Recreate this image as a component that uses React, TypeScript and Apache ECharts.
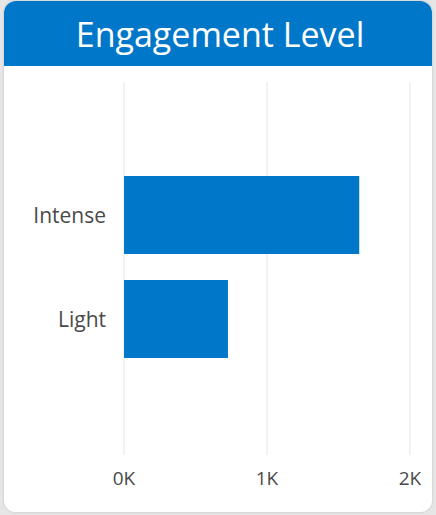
import React, { useEffect, useRef } from "react";
import * as echarts from "echarts";

const title = "Engagement Level";
const categories = ["Intense", "Light"];
const values = [1645, 727];
const tickValues = [0, 1000, 2000];

const BLUE = "#0177C9";
const FONT = "'Open Sans', 'Noto Sans', sans-serif";

export default function App() {
  const ref = useRef<HTMLDivElement>(null);
  useEffect(() => {
    if (!ref.current) return;
    const chart = echarts.init(ref.current, undefined, { renderer: "svg" });
    chart.setOption({
      animation: false,
      backgroundColor: "#e6e6e6",
      graphic: [
        {
          type: "rect",
          z: -10,
          shape: { x: 4, y: 1, width: 428, height: 511, r: 12 },
          style: { fill: "#ffffff", shadowBlur: 3, shadowColor: "rgba(0,0,0,0.15)" },
        },
        {
          type: "rect",
          z: -9,
          shape: { x: 4, y: 1, width: 428, height: 65, r: [12, 12, 0, 0] },
          style: { fill: BLUE },
        },
        {
          type: "text",
          z: 10,
          x: 220,
          y: 34,
          style: {
            text: title,
            fill: "#ffffff",
            font: `34px ${FONT}`,
            textAlign: "center",
            textVerticalAlign: "middle",
          },
        },
      ],
      grid: [
        { left: 124, right: 26, top: 82, bottom: 60 },
        { left: 124, right: 26, top: 163, bottom: 144 },
      ],
      xAxis: [
        {
          type: "value",
          gridIndex: 0,
          min: tickValues[0],
          max: tickValues[tickValues.length - 1],
          interval: 1000,
          axisLine: { show: false },
          axisTick: { show: false },
          splitLine: { show: true, lineStyle: { color: "#eeeeee", width: 1.5 } },
          axisLabel: {
            margin: 13,
            color: "#4a4a4a",
            fontSize: 19,
            fontFamily: FONT,
            formatter: (v: number) => `${v / 1000}K`,
          },
        },
        {
          type: "value",
          gridIndex: 1,
          min: tickValues[0],
          max: tickValues[tickValues.length - 1],
          show: false,
        },
      ],
      yAxis: [
        { type: "value", gridIndex: 0, show: false },
        {
          type: "category",
          gridIndex: 1,
          data: categories,
          inverse: true,
          axisLine: { show: false },
          axisTick: { show: false },
          splitLine: { show: false },
          axisLabel: {
            margin: 18,
            color: "#4a4a4a",
            fontSize: 21,
            fontFamily: FONT,
          },
        },
      ],
      series: [
        {
          type: "bar",
          xAxisIndex: 1,
          yAxisIndex: 1,
          data: values,
          barCategoryGap: "25%",
          itemStyle: { color: BLUE },
        },
      ],
    });
    return () => chart.dispose();
  }, []);
  return (
    <div
      ref={ref}
      style={{ position: "fixed", left: 0, top: 0, width: 436, height: 515 }}
    />
  );
}
